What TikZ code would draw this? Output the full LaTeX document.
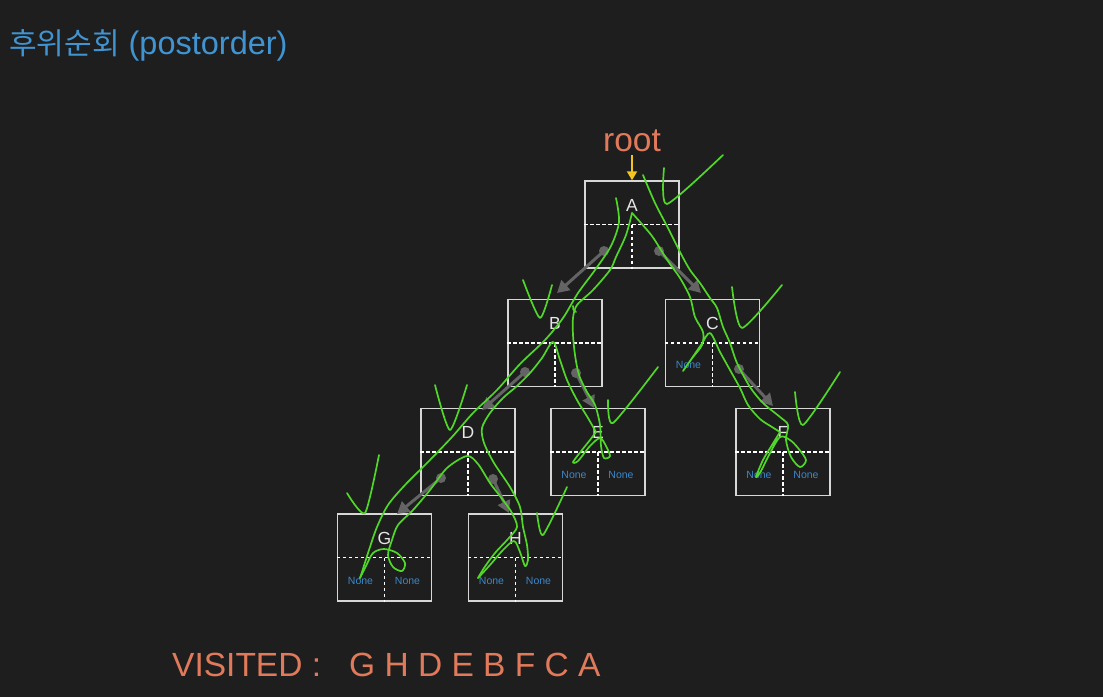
\documentclass[tikz,border=0pt]{standalone}
\usepackage{fontspec}
\setmainfont{Liberation Sans}
\newfontfamily\krfont{Noto Sans CJK KR}
\usetikzlibrary{arrows.meta}
\definecolor{bgc}{RGB}{30,30,30}
\definecolor{boxc}{RGB}{215,215,215}
\definecolor{lblc}{RGB}{230,230,230}
\definecolor{nonec}{RGB}{60,135,200}
\definecolor{orc}{RGB}{224,122,90}
\definecolor{ttc}{RGB}{64,148,210}
\definecolor{arrc}{RGB}{100,100,100}
\definecolor{ylc}{RGB}{245,195,30}
\definecolor{grc}{RGB}{80,215,40}
\begin{document}
\begin{tikzpicture}[x=1pt,y=-1pt,
 tbox/.style={draw=boxc, line width=1.4pt, minimum width=94pt, minimum height=87pt, inner sep=0pt},
 dsh/.style={draw=white, line width=1.2pt, dash pattern=on 3.5pt off 2.5pt},
 lbl/.style={text=lblc, font=\fontsize{17.5}{17.5}\selectfont, inner sep=0pt},
 nonel/.style={text=nonec, font=\fontsize{10.5}{11}\selectfont, inner sep=0pt},
 arr/.style={draw=arrc, line width=3pt, -{Triangle[length=12pt,width=13pt]}},
 dotc/.style={fill=arrc, circle, minimum size=10pt, inner sep=0pt},
 grn/.style={draw=grc, line width=1.7pt, line cap=round, line join=round},
 bigtxt/.style={text=orc, font=\fontsize{33.5}{34}\selectfont, inner sep=0pt},
]
\fill[bgc] (0,0) rectangle (1103,697);
\useasboundingbox (0,0) rectangle (1103,697);

% title
\node[anchor=west, text=ttc, inner sep=0pt, font=\fontsize{32.5}{33}\selectfont] (title) at (9,45)
  {{\krfont\fontsize{30}{30}\selectfont 후위순회} (postorder)};

% boxes
\foreach \n/\x/\y in {A/632/224.5, B/555/343, C/712.5/343, D/468/452, E/598/452, F/783/452, G/384.5/557.5, H/515.5/557.5}{
  \node[tbox] (\n) at (\x,\y) {};
  \draw[dsh] (\n.west) -- (\n.east);
  \draw[dsh] (\n.center) -- (\n.south);
  \node[lbl] (l\n) at ([yshift=-25pt]\n.north) {\n};
}

% None labels
\node[nonel] (nC1) at ([xshift=-24pt,yshift=-22pt]C.center) {None};
\foreach \n in {E,F,G,H}{
  \node[nonel] (n\n1) at ([xshift=-24pt,yshift=-23pt]\n.center) {None};
  \node[nonel] (n\n2) at ([xshift=23pt,yshift=-23pt]\n.center) {None};
}

% arrows
\coordinate (dA1) at (604,251); \coordinate (dA2) at (659,251);
\coordinate (dB1) at (525,372); \coordinate (dB2) at (576,373);
\coordinate (dC2) at (739,369);
\coordinate (dD1) at (441,478); \coordinate (dD2) at (493,479);
\coordinate (tB) at (557,293); \coordinate (tC) at (701,293);
\coordinate (tD) at (482,410); \coordinate (tE) at (594,408);
\coordinate (tF) at (773,406);
\coordinate (tG) at (397,514); \coordinate (tH) at (509,513);
\foreach \s/\t in {dA1/tB, dA2/tC, dB1/tD, dB2/tE, dC2/tF, dD1/tG, dD2/tH}{
  \draw[arr] (\s) -- (\t);
  \node[dotc] at (\s) {};
}

% root
\node[bigtxt] (root) at (632,141) {root};
\draw[draw=ylc, line width=2pt, -{Triangle[length=9pt,width=10pt]}] ([yshift=-3pt]root.south) -- (A.north);

% visited
\node[bigtxt, anchor=west] (vis) at (172,665) {VISITED :};
\node[bigtxt, anchor=west] (seq) at (349,665) {G H D E B F C A};

% green traversal scribbles
\draw[grn] plot[smooth, tension=0.5] coordinates {(616,198) (619,222) (611,246) (595,270) (578,293) (563,318) (545,340) (520,364) (497,390) (473,413) (452,437) (428,462) (405,485) (388,505) (377,527) (369,550) (362,572) (360,578)};
\draw[grn] plot[smooth, tension=0.5] coordinates {(360,578) (366,566) (373,553) (384,549) (397,553) (405,563) (402,571) (393,567) (388,555) (392,540) (398,525) (413,510) (430,490) (447,468) (467,456) (478,464) (490,483) (503,500) (512,513) (517,527) (508,539) (495,553) (484,568) (478,578)};
\draw[grn] plot[smooth, tension=0.5] coordinates {(478,578) (490,565) (503,550) (514,541) (520,552) (525,566) (528,560) (527,545) (523,527) (520,507) (510,487) (494,463) (484,443) (482,428) (490,413) (503,398) (517,386) (530,373) (542,358) (553,342) (560,360) (567,380) (577,400) (588,418) (596,432)};
\draw[grn] plot[smooth, tension=0.5] coordinates {(596,432) (590,440) (582,450) (573,462) (578,461) (590,446) (600,438) (606,446) (610,456) (604,458) (601,446) (600,425) (595,405) (587,392) (579,375) (575,355) (573,335) (573,318) (577,305) (593,290) (610,270) (616,257) (626,235) (632,213)};
\draw[grn] plot[smooth, tension=0.5] coordinates {(632,213) (641,223) (652,236) (661,250) (670,264) (680,278) (690,297) (695,317) (703,332) (702,345) (693,357) (685,368) (683,371) (690,361) (701,345) (710,333) (720,352) (730,370) (740,388) (748,405) (760,419) (772,427) (780,432)};
\draw[grn] plot[smooth, tension=0.5] coordinates {(780,432) (772,445) (763,460) (756,477) (761,471) (769,455) (780,437) (790,440) (798,448) (806,460) (800,467) (791,457) (786,440) (788,425) (780,417) (763,403) (750,387) (737,363) (730,343) (723,327) (717,308) (710,298) (700,283) (690,270) (680,252) (668,228) (655,203) (643,175)};
\draw[grn] (576,312) to[bend left=40] (573,306);

% check marks
\foreach \a/\b/\c in {{(664,168)}/{(667,204)}/{(723,155)}, {(523,280)}/{(540,318)}/{(552,285)}, {(732,287)}/{(742,328)}/{(782,285)}, {(435,385)}/{(450,430)}/{(467,385)}, {(608,400)}/{(613,423)}/{(658,367)}, {(795,392)}/{(803,425)}/{(840,372)}, {(347,493)}/{(365,513)}/{(379,455)}, {(537,513)}/{(543,535)}/{(567,487)}}{
  \draw[grn] plot[smooth, tension=0.4] coordinates {\a \b \c};
}
\end{tikzpicture}
\end{document}
